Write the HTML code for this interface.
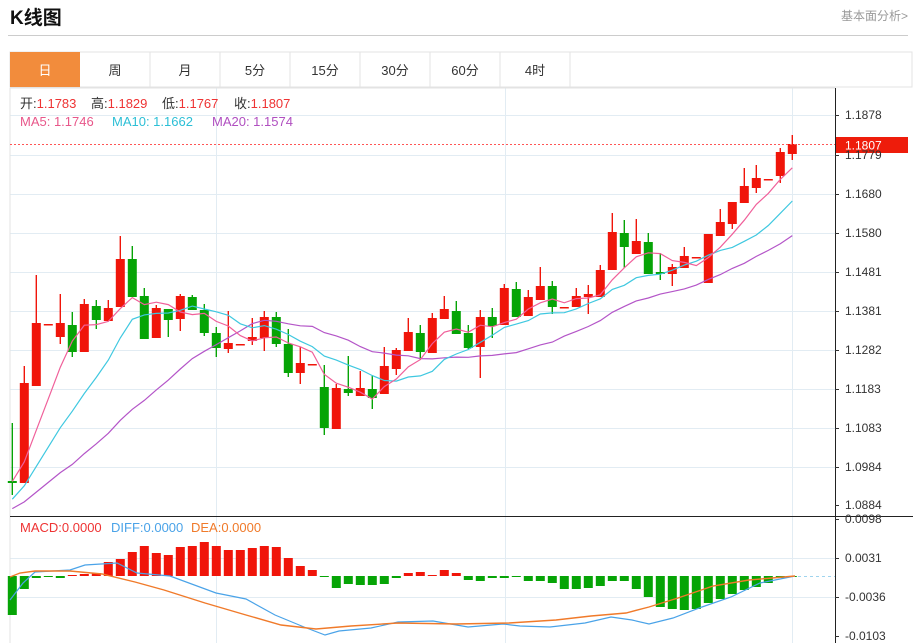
<!DOCTYPE html><html><head><meta charset="utf-8"><style>
body{margin:0;width:913px;height:643px;overflow:hidden;background:#fff;font-family:"Liberation Sans","Noto Sans CJK SC",sans-serif}
.t{position:absolute}
</style></head><body>
<div class="t" style="left:10px;top:3px;font-size:19px;font-weight:bold;color:#111">K线图</div>
<div class="t" style="left:841px;top:7px;font-size:12px;color:#999">基本面分析&gt;</div>
<div class="t" style="left:8px;top:35px;width:900px;height:1px;background:#ccc"></div>
<svg class="t" style="left:0;top:0" width="913" height="643" xmlns="http://www.w3.org/2000/svg" font-family="Liberation Sans, Noto Sans CJK SC, sans-serif">
<rect x="10" y="52" width="902" height="35" fill="#fff" stroke="#e3e3e3"/>
<rect x="10" y="52" width="70" height="35" fill="#f28c3c"/>
<g stroke="#e3e3e3"><line x1="150" y1="52" x2="150" y2="87"/><line x1="220" y1="52" x2="220" y2="87"/><line x1="290" y1="52" x2="290" y2="87"/><line x1="360" y1="52" x2="360" y2="87"/><line x1="430" y1="52" x2="430" y2="87"/><line x1="500" y1="52" x2="500" y2="87"/><line x1="570" y1="52" x2="570" y2="87"/></g>
<g font-size="13" text-anchor="middle" fill="#333"><text x="45" y="75" fill="#fff">日</text><text x="115" y="75">周</text><text x="185" y="75">月</text><text x="255" y="75">5分</text><text x="325" y="75">15分</text><text x="395" y="75">30分</text><text x="465" y="75">60分</text><text x="535" y="75">4时</text></g>
<g id="grid" stroke="#e2ecf3" stroke-width="1"></g>
<line x1="10" y1="88" x2="10" y2="643" stroke="#e3e3e3"/>
<line x1="10" y1="88" x2="835" y2="88" stroke="#e3e3e3"/>
<g id="c"></g>
<line x1="10" y1="516.5" x2="913" y2="516.5" stroke="#222"/>
<line x1="835.5" y1="88" x2="835.5" y2="643" stroke="#222"/>
<line x1="10" y1="144.5" x2="835" y2="144.5" stroke="#f55" stroke-dasharray="2,2"/>
<rect x="836" y="137" width="72" height="16" fill="#ee1c0b"/>
<text x="845" y="149.5" font-size="12" fill="#fff">1.1807</text>
<g id="ax" font-size="12" fill="#333"></g>
<g font-size="13"><text x="20" y="108" fill="#333">开:<tspan fill="#e33">1.1783</tspan></text><text x="91" y="108" fill="#333">高:<tspan fill="#e33">1.1829</tspan></text><text x="162" y="108" fill="#333">低:<tspan fill="#e33">1.1767</tspan></text><text x="234" y="108" fill="#333">收:<tspan fill="#e33">1.1807</tspan></text>
<text x="20" y="126" fill="#e8578a">MA5: 1.1746</text><text x="112" y="126" fill="#2cbfd6">MA10: 1.1662</text><text x="212" y="126" fill="#b04fc0">MA20: 1.1574</text>
<text x="20" y="532" fill="#e33">MACD:0.0000</text><text x="111" y="532" fill="#4aa3e8">DIFF:0.0000</text><text x="191" y="532" fill="#f07a2a">DEA:0.0000</text></g>
</svg>
<script>
const NS="http://www.w3.org/2000/svg";
function el(p,t,a){const e=document.createElementNS(NS,t);for(const k in a)e.setAttribute(k,a[k]);p.appendChild(e);return e;}
const g=document.getElementById('grid'),c=document.getElementById('c'),ax=document.getElementById('ax');
const py=[115,155,194,233,272,311,350,389,428,467,505],pl=["1.1878","1.1779","1.1680","1.1580","1.1481","1.1381","1.1282","1.1183","1.1083","1.0984","1.0884"];
py.forEach((y,i)=>{if(i<10)el(g,'line',{x1:10,y1:y+.5,x2:835,y2:y+.5});el(ax,'line',{x1:835,y1:y+.5,x2:839,y2:y+.5,stroke:'#333'});el(ax,'text',{x:845,y:y+4}).textContent=pl[i];});
const my=[519,558,597,636],ml=["0.0098","0.0031","-0.0036","-0.0103"];
my.forEach((y,i)=>{if(i>0&&i<3)el(g,'line',{x1:10,y1:y+.5,x2:835,y2:y+.5});el(ax,'line',{x1:835,y1:y+.5,x2:839,y2:y+.5,stroke:'#333'});el(ax,'text',{x:845,y:y+4}).textContent=ml[i];});
[216,505,792].forEach(x=>el(g,'line',{x1:x+.5,y1:88,x2:x+.5,y2:643}));
const K=[['g',481,483,423,495],['r',383,483,366,483],['r',323,386,275,386],['r',324,325,324,325],['r',323,337,294,344],['g',325,352,312,357],['r',304,352,299,352],['g',306,320,300,329],['r',308,321,300,321],['r',259,307,236,307],['g',259,297,246,297],['g',296,339,288,339],['r',308,338,305,338],['g',309,320,309,337],['r',296,319,294,331],['g',297,310,295,310],['g',310,333,304,336],['g',333,348,327,357],['r',343,349,311,353],['r',344,345,344,345],['r',337,341,318,345],['r',317,338,311,351],['g',317,344,312,347],['g',344,373,329,377],['r',363,373,347,384],['r',364,365,364,365],['g',387,428,365,435],['r',388,429,384,429],['g',389,393,356,396],['r',388,396,371,396],['g',389,398,375,409],['r',366,394,347,394],['r',350,369,348,375],['r',332,351,318,351],['g',333,352,325,360],['r',318,353,313,353],['r',309,319,296,319],['g',311,334,301,334],['g',333,348,325,349],['r',317,347,310,378],['g',317,326,308,338],['r',288,325,284,325],['g',289,317,282,317],['r',297,316,290,316],['r',286,300,267,300],['g',286,307,281,314],['r',307,308,307,308],['r',296,307,288,307],['r',294,297,285,314],['r',270,297,265,297],['r',232,270,213,270],['g',233,247,220,268],['r',241,254,219,254],['g',242,274,233,274],['g',272,274,253,280],['r',267,274,264,286],['r',256,268,247,268],['r',257,258,257,258],['r',234,283,234,283],['r',222,236,209,236],['r',202,224,202,229],['r',186,203,168,203],['r',178,188,165,193],['r',179,180,179,180],['r',152,176,148,183],['r',144,154,135,160]];
const X=i=>12.3+12*i;
const RED='#f0150a',GRN='#06a406';
K.forEach((k,i)=>{const col=k[0]=='r'?RED:GRN,x=X(i);
el(c,'line',{x1:x,y1:k[3],x2:x,y2:k[4],stroke:col,'stroke-width':1.4});
el(c,'rect',{x:x-4.5,y:k[1],width:9,height:Math.max(1.5,k[2]-k[1]),fill:col});});
const cl=K.map(k=>k[0]=='r'?k[1]:k[2]);
const pad=[518,518,518,518,518,518,518,518,518,518,517,517,517,517,517,481,481,481,481];
const all=pad.concat(cl);
function ma(n,colr){let pts=[];for(let i=0;i<cl.length;i++){let s=0,j=i+pad.length;for(let q=0;q<n;q++)s+=all[j-q];pts.push(X(i).toFixed(1)+','+(s/n).toFixed(1));}
el(c,'polyline',{points:pts.join(' '),fill:'none',stroke:colr,'stroke-width':1.2});}
ma(20,'#b455c8');ma(10,'#3fc8e0');ma(5,'#f0609a');
const M=[615,589,578,577,578,575,574,573,562,559,552,546,553,555,547,546,542,546,550,550,548,546,547,558,566,570,577,588,584,585,585,584,578,573,572,575,570,573,580,581,578,578,576,581,581,583,589,589,588,586,581,581,589,597,607,609,610,609,603,599,594,590,587,583,578,576];
const Z=576;
M.forEach((v,i)=>{const x=X(i);const col=v<Z?RED:GRN;const y=Math.min(v,Z),h=Math.max(1,Math.abs(v-Z));el(c,'rect',{x:x-4.5,y:y,width:9,height:h,fill:col});});
el(c,'line',{x1:792,y1:576.5,x2:835,y2:576.5,stroke:'#9fd4ee','stroke-dasharray':'3,3'});
const DEA="10,577 20,573 35,571 70,571 102,574 135,582 164,590 205,603 246,615 281,625 316,629 351,626 398,623 456,624 509,623 556,620 591,616 626,613 649,607 678,598 713,586 749,580 795,576";
const DIF="10,600 23,583 35,572 70,570 85,565 117,563 137,573 170,576 216,593 246,599 275,615 304,627 325,635 339,631 371,628 398,622 433,621 468,627 503,624 520,626 550,627 585,623 611,617 632,620 649,624 673,618 702,607 731,597 760,583 795,576";
el(c,'polyline',{points:DIF,fill:'none',stroke:'#4aa3e8','stroke-width':1.2});
el(c,'polyline',{points:DEA,fill:'none',stroke:'#f07a2a','stroke-width':1.4});
</script>
</body></html>
